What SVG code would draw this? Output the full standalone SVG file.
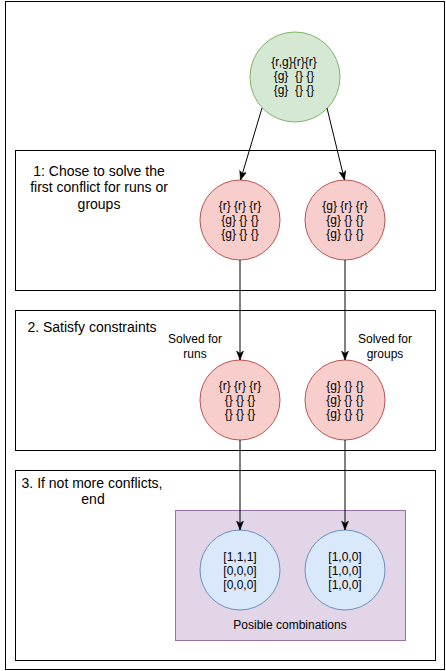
<svg xmlns="http://www.w3.org/2000/svg" width="446" height="671" viewBox="0 0 446 671">
<style>
text{font-family:"Liberation Sans",Arial,Helvetica,sans-serif;fill:#000;text-anchor:middle;white-space:pre}
.t14{font-size:14px}
.t12{font-size:12px}
.box{fill:#fff;stroke:#000;stroke-width:1}
.green{fill:#d5e8d4;stroke:#82b366}
.red{fill:#f8cecc;stroke:#b85450}
.blue{fill:#dae8fc;stroke:#6c8ebf}
.purple{fill:#e1d5e7;stroke:#9673a6}
.edge{stroke:#000;stroke-width:1;fill:none;marker-end:url(#arrow)}
</style>
<defs>
<marker id="arrow" markerUnits="userSpaceOnUse" markerWidth="10" markerHeight="8" refX="9" refY="3.5" orient="auto">
<path d="M0,0 L9,3.5 L0,7 L2.3,3.5 z" fill="#000" stroke="#000" stroke-width="0.5"/>
</marker>
</defs>
<rect width="446" height="671" fill="#fff"/>
<g id="frame"><rect class="box" x="5.5" y="1.5" width="439" height="668"/></g>
<g id="step1">
<rect class="box" x="15.5" y="150.5" width="420" height="140"/>
<text class="t14" x="99" y="175.5">1: Chose to solve the</text>
<text class="t14" x="99" y="192">first conflict for runs or</text>
<text class="t14" x="99" y="208.5">groups</text>
</g>
<g id="step2">
<rect class="box" x="15.5" y="310.5" width="420" height="140"/>
<text class="t14" x="92" y="332">2. Satisfy constraints</text>
</g>
<g id="step3">
<rect class="box" x="15.5" y="470.5" width="420" height="190"/>
<text class="t14" x="92" y="488">3. If not more conflicts,</text>
<text class="t14" x="93" y="504">end</text>
</g>
<g id="combinations">
<rect class="purple" x="175.5" y="510.5" width="230" height="130"/>
<text class="t12" x="290" y="629">Posible combinations</text>
</g>
<g id="start">
<circle class="green" cx="295" cy="77" r="45"/>
<text class="t12" x="294" y="66">{r,g}{r}{r}</text>
<text class="t12" x="294" y="80">{g}  {} {}</text>
<text class="t12" x="294" y="94">{g}  {} {}</text>
</g>
<g id="runs1">
<circle class="red" cx="240" cy="220" r="40"/>
<text class="t12" x="240" y="210">{r} {r} {r}</text>
<text class="t12" x="240" y="224">{g} {} {}</text>
<text class="t12" x="240" y="238">{g} {} {}</text>
</g>
<g id="groups1">
<circle class="red" cx="345" cy="220" r="40"/>
<text class="t12" x="345" y="210">{g} {r} {r}</text>
<text class="t12" x="345" y="224">{g} {} {}</text>
<text class="t12" x="345" y="238">{g} {} {}</text>
</g>
<g id="runs2">
<circle class="red" cx="240" cy="400" r="40"/>
<text class="t12" x="240" y="390">{r} {r} {r}</text>
<text class="t12" x="240" y="404">{} {} {}</text>
<text class="t12" x="240" y="418">{} {} {}</text>
</g>
<g id="groups2">
<circle class="red" cx="345" cy="400" r="40"/>
<text class="t12" x="345" y="390">{g} {} {}</text>
<text class="t12" x="345" y="404">{g} {} {}</text>
<text class="t12" x="345" y="418">{g} {} {}</text>
</g>
<g id="comb1">
<circle class="blue" cx="240" cy="570" r="40"/>
<text class="t12" x="240" y="561">[1,1,1]</text>
<text class="t12" x="240" y="575">[0,0,0]</text>
<text class="t12" x="240" y="589">[0,0,0]</text>
</g>
<g id="comb2">
<circle class="blue" cx="345" cy="570" r="40"/>
<text class="t12" x="345" y="561">[1,0,0]</text>
<text class="t12" x="345" y="575">[1,0,0]</text>
<text class="t12" x="345" y="589">[1,0,0]</text>
</g>
<g id="connectors">
<line class="edge" x1="262" y1="108" x2="240.5" y2="180"/>
<line class="edge" x1="327" y1="108" x2="344.5" y2="180"/>
<line class="edge" x1="240" y1="260" x2="240" y2="360"/>
<line class="edge" x1="345" y1="260" x2="345" y2="360"/>
<line class="edge" x1="240" y1="440" x2="240" y2="530"/>
<line class="edge" x1="345" y1="440" x2="345" y2="530"/>
<text class="t12" x="195" y="343">Solved for</text>
<text class="t12" x="195" y="358">runs</text>
<text class="t12" x="385" y="343">Solved for</text>
<text class="t12" x="385" y="358">groups</text>
</g>
</svg>
